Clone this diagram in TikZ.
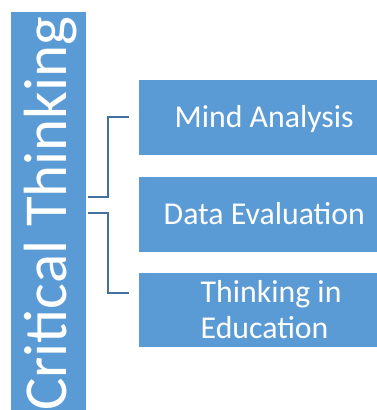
\documentclass[tikz,border=0pt]{standalone}
\usepackage{fontspec}
\setmainfont{Carlito}
\definecolor{boxblue}{HTML}{5B9BD5}
\definecolor{linkblue}{HTML}{41719C}
\tikzset{
  itembox/.style={fill=boxblue,draw=none,text=white,minimum width=238pt,minimum height=75pt,inner sep=0pt,anchor=north west},
  itemtext/.style={text=white,inner sep=0pt,font=\fontsize{31.8}{36}\selectfont},
  linkline/.style={draw=linkblue,line width=1.5pt},
}
\begin{document}
\begin{tikzpicture}[x=1pt,y=-1pt]
\useasboundingbox (0,0) rectangle (377,410);
\node[fill=boxblue,minimum width=75pt,minimum height=398pt,inner sep=0pt,anchor=north west] (bar) at (11,12) {};
\node[rotate=90,text=white,inner sep=0pt,anchor=base west,font=\fontsize{61}{62}\selectfont] (title) at (66,411) {Critical Thinking};
\node[itembox] (mind) at (139,80) {};
\node[itembox] (data) at (139,177) {};
\node[itembox,minimum height=74pt] (edu) at (139,273) {};
\node[itemtext,anchor=base west] (t1) at (174.5,127) {Mind Analysis};
\node[itemtext,anchor=base west] (t2) at (163.5,224) {Data Evaluation};
\node[itemtext,anchor=base west] (t3) at (200.5,302) {Thinking in};
\node[itemtext,anchor=base west] (t4) at (200.5,338) {Education};
\coordinate (s1) at (88,197);
\coordinate (e1) at (129,117);
\coordinate (s2) at (88,213);
\coordinate (e2) at (129,293);
\draw[linkline] (s1) -- (108,197) -- (108,117) -- (e1);
\draw[linkline] (s2) -- (108,213) -- (108,293) -- (e2);
\end{tikzpicture}
\end{document}
